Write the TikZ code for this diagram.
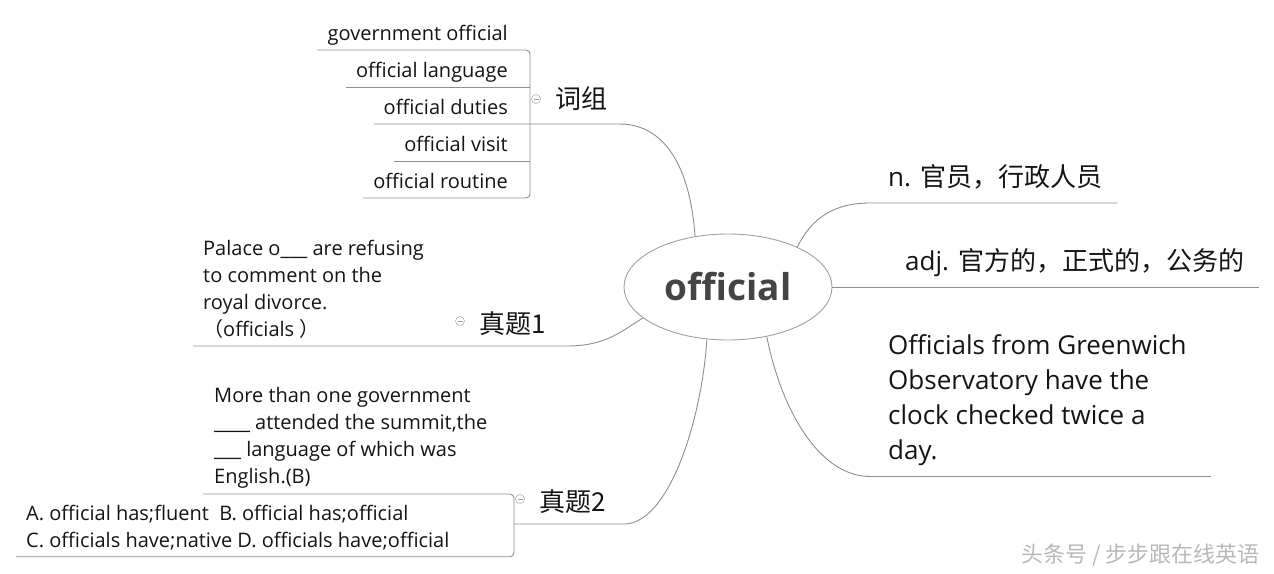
\documentclass[tikz,border=0pt]{standalone}
\usepackage{fontspec}
\setmainfont{Open Sans}
\newfontfamily\cjk{Noto Sans CJK SC}
\usetikzlibrary{positioning, shapes.geometric}

\definecolor{linegray}{HTML}{8E8E8E}
\definecolor{inkdark}{HTML}{141414}
\definecolor{headgray}{HTML}{444444}

\begin{document}
\begin{tikzpicture}[
        x=1pt, y=-1pt,
        every node/.style={inner sep=0pt, text=inkdark},
        branch/.style={draw=linegray, line width=0.9pt},
        phrase/.style={anchor=base east, font=\fontsize{20}{24}\selectfont},
        topic/.style={anchor=base west, font=\cjk\fontsize{26}{30}\selectfont},
        sense/.style={anchor=base west, font=\fontsize{26}{30}\selectfont},
        para/.style={anchor=base west, align=left, font=\fontsize{20}{27}\selectfont},
        fold/.style={circle, draw=linegray!70, line width=0.6pt, minimum size=9pt}
    ]

    \useasboundingbox (0,0) rectangle (1274,573);

    \node[ellipse, draw=linegray!85, line width=0.9pt, minimum width=208pt, minimum height=106pt,
          font=\bfseries\fontsize{37}{40}\selectfont, text=headgray] (word) at (728,287) {official};

    \node[phrase] (gov) at (508,40) {government official};
    \node[phrase] (lang) at (508,77) {official language};
    \node[phrase] (duty) at (508,114) {official duties};
    \node[phrase] (visit) at (508,151) {official visit};
    \node[phrase] (routine) at (508,188) {official routine};

    \node[topic] (cizu) at (555,108) {词组};
    \node[topic] (zt1) at (479,333) {真题1};
    \node[topic] (zt2) at (539,511) {真题2};

    \node[sense] (noun) at (888,186) {n. {\cjk 官员，行政人员}};
    \node[sense] (adj) at (905,270) {adj. {\cjk 官方的，正式的，公务的}};
    \node[para, font=\fontsize{26}{35}\selectfont] (sent) at (888,459)
        {Officials from Greenwich\\Observatory have the\\clock checked twice a\\day.};

    \node[para] (q1) at (203,336)
        {Palace o\_\_\_ are refusing\\to comment on the\\royal divorce.\\{\cjk （}officials {\cjk ）}};
    \node[para] (q2) at (214,483)
        {More than one government\\\_\_\_\_ attended the summit,the\\\_\_\_ language of which was\\English.(B)};
    \node[para] (opts) at (26,547)
        {A. official has;fluent\ \ B. official has;official\\C. officials have;native D. officials have;official};

    \node[fold] (f1) at (536,99) {};
    \node[fold] (f2) at (460,321) {};
    \node[fold] (f3) at (520,499) {};
    \foreach \f in {f1,f2,f3}
        \draw[linegray!80, line width=0.6pt] ([xshift=-2.5pt]\f.center) -- ([xshift=2.5pt]\f.center);

    \node[anchor=base east, font=\cjk\fontsize{22}{24}\selectfont, text=black!28] (mark) at (1260,562)
        {头条号 / 步步跟在线英语};

    \coordinate (brk) at (530,0);
    \foreach \p in {gov,lang,duty,visit,routine}
        \coordinate (\p-u) at ([shift={(-10,10)}]\p.base west);
    \draw[branch, rounded corners=4pt] (gov-u) -- (gov-u -| brk) -- (routine-u -| brk) -- (routine-u);
    \draw[branch] (lang-u) -- (lang-u -| brk);
    \draw[branch] (visit-u) -- (visit-u -| brk);
    \draw[branch] (duty-u) -- ([xshift=12pt]duty-u -| cizu.east)
        .. controls +(45,0) and +(-5,-70) .. (word.123);

    \draw[branch] (word.30) .. controls +(15,-30) and +(-35,0) .. ([shift={(-18,17)}]noun.base west)
        -- ([shift={(15,17)}]noun.base east);
    \draw[branch] (word.east) -- ([xshift=15pt]word.east -| adj.base east);
    \coordinate (sent-u) at ([shift={(-18,11)}]sent.south west);
    \draw[branch] (word.-52) .. controls +(15,75) and +(-50,0) .. (sent-u)
        -- ([xshift=24pt]sent-u -| sent.east);

    \coordinate (zt1-u) at ([shift={(0,13)}]zt1.base west);
    \draw[branch] ([xshift=-10pt]q1.west |- zt1-u) -- ([xshift=88pt]zt1-u)
        .. controls +(40,0) and +(-20,12) .. (word.200);

    \coordinate (brk2) at (514,0);
    \coordinate (zt2-u) at ([shift={(0,13)}]zt2.base west);
    \coordinate (q2-u) at ([shift={(-11,6)}]q2.south west);
    \coordinate (opts-u) at ([shift={(-10,7)}]opts.south west);
    \draw[branch, rounded corners=4pt] (q2-u) -- (q2-u -| brk2) -- (opts-u -| brk2) -- (opts-u);
    \draw[branch] (zt2-u -| brk2) -- ([xshift=85pt]zt2-u)
        .. controls +(45,0) and +(-5,80) .. (word.248);

\end{tikzpicture}
\end{document}
